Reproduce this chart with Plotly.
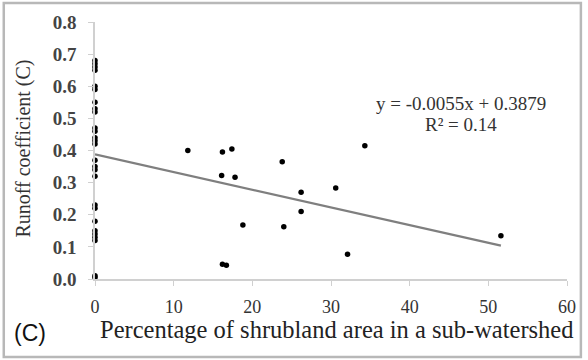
import plotly.graph_objects as go

# Data
zero_x_runoff = [0.68, 0.67, 0.66, 0.65, 0.60, 0.59, 0.55, 0.53, 0.52, 0.47, 0.46,
                 0.44, 0.43, 0.42, 0.37, 0.35, 0.34, 0.32, 0.23, 0.22, 0.18, 0.15,
                 0.14, 0.13, 0.12, 0.01, 0.005]
shrub_pct = [11.8, 16.2, 17.4, 23.8, 34.3, 16.1, 17.8, 26.2, 30.6, 26.2, 18.8,
             24.0, 32.1, 16.2, 16.7, 51.6]
shrub_runoff = [0.40, 0.395, 0.405, 0.365, 0.415, 0.322, 0.317, 0.27, 0.283, 0.21,
                0.168, 0.163, 0.077, 0.046, 0.043, 0.135]
slope = -0.0055
intercept = 0.3879
r_squared = 0.14
x_ticks = [0, 10, 20, 30, 40, 50, 60]
y_ticks = [0.0, 0.1, 0.2, 0.3, 0.4, 0.5, 0.6, 0.7, 0.8]

all_x = [0.0] * len(zero_x_runoff) + shrub_pct
all_y = zero_x_runoff + shrub_runoff

x_line = [0.0, max(shrub_pct)]
y_line = [intercept + slope * v for v in x_line]

W, H = 588, 360
L, R, T, B = 95, 17, 22, 81

fig = go.Figure()
fig.add_trace(go.Scatter(x=x_line, y=y_line, mode="lines",
                         line=dict(color="#7f7f7f", width=2.2),
                         hoverinfo="skip", showlegend=False))
fig.add_trace(go.Scatter(x=all_x, y=all_y, mode="markers",
                         marker=dict(color="black", size=5.5),
                         cliponaxis=False, showlegend=False))

serif = "Liberation Serif"

fig.update_layout(
    width=W, height=H,
    margin=dict(l=L, r=R, t=T, b=B),
    paper_bgcolor="white", plot_bgcolor="white",
    font=dict(family=serif, color="#333333"),
    xaxis=dict(range=[0, 60], tickvals=x_ticks, ticktext=[str(v) for v in x_ticks],
               showgrid=False, zeroline=False, showline=True, linecolor="#d0d0d0",
               linewidth=1.5, ticks="outside", ticklen=5, tickcolor="#d0d0d0",
               tickfont=dict(family=serif, size=18, color="#333333"),
               ticklabelstandoff=6),
    yaxis=dict(range=[0, 0.8], tickvals=y_ticks,
               ticktext=[f"<b>{v:.1f}</b>" for v in y_ticks],
               showgrid=False, zeroline=False, showline=True, linecolor="#d0d0d0",
               linewidth=1.5, ticks="outside", ticklen=5, tickcolor="#d0d0d0",
               tickfont=dict(family=serif, size=19, color="#444444"),
               ticklabelstandoff=8),
)

def px_to_paper_x(px):
    return (px - L) / (W - L - R)

def px_to_paper_y(py):
    return (H - B - py) / (H - T - B)

annotations = [
    dict(text="Percentage of shrubland area in a sub-watershed",
         x=px_to_paper_x(339), y=px_to_paper_y(329), xref="paper", yref="paper",
         showarrow=False, xanchor="center", yanchor="middle",
         font=dict(family=serif, size=24.5, color="#222222")),
    dict(text="Runoff coefficient (C)",
         x=px_to_paper_x(22), y=px_to_paper_y(149), xref="paper", yref="paper",
         showarrow=False, xanchor="center", yanchor="middle", textangle=-90,
         font=dict(family=serif, size=20, color="#333333")),
    dict(text="(C)",
         x=px_to_paper_x(29), y=px_to_paper_y(333), xref="paper", yref="paper",
         showarrow=False, xanchor="center", yanchor="middle",
         font=dict(family="Liberation Sans", size=23, color="#111111")),
    dict(text=f"y = {slope}x + {intercept}",
         x=px_to_paper_x(464), y=px_to_paper_y(103), xref="paper", yref="paper",
         showarrow=False, xanchor="center", yanchor="middle",
         font=dict(family=serif, size=19, color="#333333")),
    dict(text=f"R² = {r_squared}",
         x=px_to_paper_x(464), y=px_to_paper_y(124), xref="paper", yref="paper",
         showarrow=False, xanchor="center", yanchor="middle",
         font=dict(family=serif, size=19, color="#333333")),
]
fig.update_layout(annotations=annotations)

fig.add_shape(type="rect", xref="paper", yref="paper",
              x0=px_to_paper_x(3), x1=px_to_paper_x(585),
              y0=px_to_paper_y(357), y1=px_to_paper_y(3),
              line=dict(color="#b8b8b8", width=2.5), layer="below")

fig.write_html("out.html")
